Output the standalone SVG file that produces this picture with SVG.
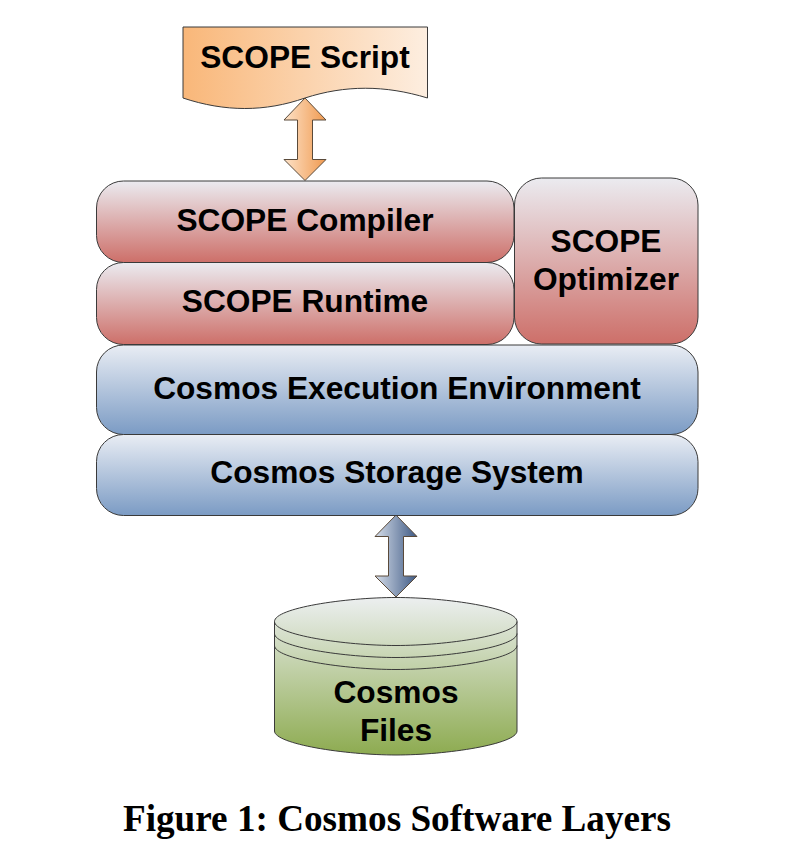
<svg xmlns="http://www.w3.org/2000/svg" width="796" height="852" viewBox="0 0 796 852">
<defs>
<linearGradient id="red" x1="0" y1="0" x2="0" y2="1"><stop offset="0" stop-color="#ebebf0"/><stop offset="1" stop-color="#cd6f69"/></linearGradient>
<linearGradient id="blue" x1="0" y1="0" x2="0" y2="1"><stop offset="0" stop-color="#e9edf4"/><stop offset="1" stop-color="#7b9bc4"/></linearGradient>
<linearGradient id="green" x1="0" y1="0" x2="0" y2="1"><stop offset="0" stop-color="#eceff0"/><stop offset="1" stop-color="#8dab50"/></linearGradient>
<linearGradient id="doc" x1="0" y1="0" x2="1" y2="0"><stop offset="0" stop-color="#f9b779"/><stop offset="1" stop-color="#fdeee0"/></linearGradient>
<linearGradient id="arrO" x1="0" y1="0" x2="1" y2="0"><stop offset="0" stop-color="#fde2c8"/><stop offset="1" stop-color="#f09a50"/></linearGradient>
<linearGradient id="arrB" x1="0" y1="0" x2="1" y2="0"><stop offset="0" stop-color="#d5dde9"/><stop offset="1" stop-color="#3f5a85"/></linearGradient>
</defs>
<style>
.box{stroke:#3a3a3a;stroke-width:1}
.arrow{stroke:#5a4a3a;stroke-width:1}
.t{font-family:"Liberation Sans",Arial,sans-serif;font-weight:700;font-size:31.7px;fill:#000;text-anchor:middle}
.cap{font-family:"Liberation Serif","Times New Roman",serif;font-weight:700;font-size:37.2px;fill:#000;text-anchor:middle}
.cyl{fill:none;stroke:#3a3a3a;stroke-width:1}
</style>
<g id="connectors">
<path class="arrow" fill="url(#arrO)" d="M305 98L326 120H312.500V159.500H326L305 180.500L284 159.500H297.500V120H284Z"/>
<path class="arrow" fill="url(#arrB)" d="M396 515L417 536.500H403.500V576H417L396 597L375 576H388.500V536.500H375Z"/>
</g>
<g id="scope-script">
<path class="box" fill="url(#doc)" d="M183 27H427.500V98C385 85 345 85 305 98C265 112 225 112 183 98Z"/>
<text class="t" x="305" y="68">SCOPE Script</text>
</g>
<g id="scope-compiler">
<rect class="box" x="96.500" y="181" width="417.500" height="81.500" rx="27" fill="url(#red)"/>
<text class="t" x="305" y="231">SCOPE Compiler</text>
</g>
<g id="scope-runtime">
<rect class="box" x="96.500" y="262.500" width="417.500" height="82" rx="27" fill="url(#red)"/>
<text class="t" x="305" y="312">SCOPE Runtime</text>
</g>
<g id="scope-optimizer">
<rect class="box" x="514.500" y="178" width="183.500" height="166" rx="27" fill="url(#red)"/>
<text class="t" x="606" y="252">SCOPE</text>
<text class="t" x="606" y="290">Optimizer</text>
</g>
<g id="cosmos-execution">
<rect class="box" x="96.500" y="345" width="601.500" height="89.500" rx="27" fill="url(#blue)"/>
<text class="t" x="397" y="399">Cosmos Execution Environment</text>
</g>
<g id="cosmos-storage">
<rect class="box" x="96.500" y="434.500" width="601.500" height="81" rx="27" fill="url(#blue)"/>
<text class="t" x="397" y="483">Cosmos Storage System</text>
</g>
<g id="cosmos-files">
<path class="box" fill="url(#green)" d="M274.500 621.500V731C274.500 744 345 755 396 755C447 755 517 744 517 731V621.500C517 608 447 597.500 396 597.500C345 597.500 274.500 608 274.500 621.500Z"/>
<path class="cyl" d="M274.500 621.500C274.500 635 345 645.500 396 645.500C447 645.500 517 635 517 621.500"/>
<path class="cyl" d="M274.500 633.500C274.500 647 345 657.500 396 657.500C447 657.500 517 647 517 633.500"/>
<path class="cyl" d="M274.500 645.500C274.500 659 345 669.500 396 669.500C447 669.500 517 659 517 645.500"/>
<text class="t" x="396" y="703">Cosmos</text>
<text class="t" x="396" y="741">Files</text>
</g>
<text class="cap" x="397" y="831">Figure 1: Cosmos Software Layers</text>
</svg>
